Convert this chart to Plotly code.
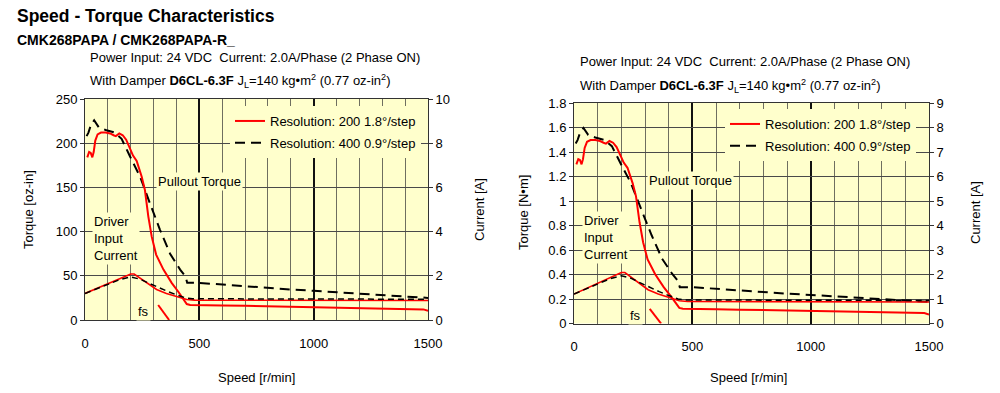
import plotly.graph_objects as go

W, H = 1000, 393

# ---------------- data ----------------
speed_t200 = [10, 18, 25, 32, 38, 45, 55, 70, 90, 110, 125, 135, 150, 165, 180, 195, 210, 226,
              248, 262, 277, 292, 311, 343, 379, 408, 430, 445, 460, 500, 600, 700, 800, 900,
              1000, 1100, 1200, 1300, 1400, 1480, 1500]
torque_t200 = [184, 190, 189, 184, 190, 203, 210, 212, 212, 211, 209, 208, 211, 209, 204, 195, 186, 180,
               162, 147, 117, 94, 74, 57, 42, 32, 23, 18, 17, 17, 16.5, 16, 15.5, 15,
               14, 13.5, 13, 12.5, 12, 12, 10.5]  # oz-in

speed_t400 = [7, 15, 25, 40, 60, 90, 130, 160, 197, 241, 284, 328, 372, 416, 440, 447, 500,
              600, 700, 800, 900, 1000, 1100, 1200, 1300, 1400, 1500]
torque_t400 = [208, 212, 220, 226, 218, 215, 212, 205, 185, 162, 132, 102, 75, 57, 49, 42, 42,
               40, 38, 36, 34.5, 33, 31.5, 30, 28.5, 27, 25]  # oz-in

speed_i200 = [0, 50, 100, 150, 200, 215, 240, 272, 313, 356, 412, 445, 480, 1000, 1500]
current_i200 = [1.2, 1.42, 1.64, 1.86, 2.08, 2.08, 1.9, 1.64, 1.38, 1.2, 1.02, 0.93, 0.9, 0.89, 0.88]  # A

speed_i400 = [0, 50, 100, 150, 200, 240, 280, 320, 360, 400, 440, 470, 1000, 1500]
current_i400 = [1.2, 1.41, 1.62, 1.82, 1.95, 1.85, 1.66, 1.47, 1.3, 1.14, 1.0, 0.96, 0.95, 0.94]  # A

speed_fs = [320, 368]
torque_fs = [17, 0]  # oz-in

OZIN_TO_NM = 0.0070616

x_major_ticks = [0, 500, 1000, 1500]
x_minor_step = 100

legend_200 = "Resolution: 200 1.8°/step"
legend_400 = "Resolution: 400 0.9°/step"

# ---------------- styling ----------------
BG = "#FFFFCC"
SANS = "Liberation Sans, Arial, sans-serif"
RED = "#FF0000"
BLACK = "#000000"
FS = 13


def px(x):
    return x / W


def py(y):
    return 1 - y / H


fig = go.Figure()

charts = [
    dict(xa="x", ya="y", ya2="y2", k=1.0, leg="legend"),
    dict(xa="x2", ya="y3", ya2="y4", k=OZIN_TO_NM, leg="legend2"),
]

for c in charts:
    k = c["k"]
    fig.add_trace(go.Scatter(x=speed_i200, y=current_i200, mode="lines", xaxis=c["xa"], yaxis=c["ya2"],
                             line=dict(color=RED, width=1.6), showlegend=False, hoverinfo="skip"))
    fig.add_trace(go.Scatter(x=speed_i400, y=current_i400, mode="lines", xaxis=c["xa"], yaxis=c["ya2"],
                             line=dict(color=BLACK, width=1.5, dash="6px,4px"), showlegend=False,
                             hoverinfo="skip"))
    fig.add_trace(go.Scatter(x=speed_t400, y=[v * k for v in torque_t400], mode="lines",
                             xaxis=c["xa"], yaxis=c["ya"], name=legend_400, legend=c["leg"],
                             legendgroup="g400", legendrank=2,
                             line=dict(color=BLACK, width=2, dash="10px,6px")))
    fig.add_trace(go.Scatter(x=speed_t200, y=[v * k for v in torque_t200], mode="lines",
                             xaxis=c["xa"], yaxis=c["ya"], name=legend_200, legend=c["leg"],
                             legendgroup="g200", legendrank=1,
                             line=dict(color=RED, width=2)))
    fig.add_trace(go.Scatter(x=speed_fs, y=[v * k for v in torque_fs], mode="lines",
                             xaxis=c["xa"], yaxis=c["ya"], showlegend=False, hoverinfo="skip",
                             line=dict(color=RED, width=2)))

tickfont = dict(family=SANS, size=FS, color="#000")

xcommon = dict(range=[0, 1500], tickvals=x_major_ticks, showgrid=True,
               gridcolor="#111111", gridwidth=2,
               minor=dict(dtick=x_minor_step, tick0=0, showgrid=True, gridcolor="#6f6f60", gridwidth=1,
                          ticks=""),
               showline=True, linecolor="#333", linewidth=1,
               mirror=True, ticks="", ticklabelstandoff=11, tickfont=tickfont, zeroline=False,
               fixedrange=True, automargin=False)
ycommon = dict(showgrid=True, gridcolor="#4a4a4a", gridwidth=1, showline=True, linecolor="#333",
               linewidth=1, ticks="outside", ticklen=4, tickcolor="#333", tickfont=tickfont,
               zeroline=False, fixedrange=True, automargin=False)
y2common = dict(showgrid=False, showline=True, linecolor="#333", linewidth=1, ticks="outside",
                ticklen=4, tickcolor="#333", tickfont=tickfont, zeroline=False, side="right",
                fixedrange=True, automargin=False)

L = dict(x0=85, x1=428, top=99, bot=320)
R = dict(x0=574, x1=929, top=103, bot=323.5)

legcommon = dict(xanchor="left", yanchor="top", bgcolor=BG, borderwidth=0,
                 font=dict(family=SANS, size=FS, color="#000"), tracegroupgap=2,
                 itemwidth=30)

fig.update_layout(
    width=W, height=H, autosize=False,
    margin=dict(l=0, r=0, t=0, b=0, pad=0, autoexpand=False),
    paper_bgcolor="white", plot_bgcolor=BG,
    xaxis=dict(domain=[px(L["x0"]), px(L["x1"])], anchor="y", **xcommon),
    yaxis=dict(domain=[py(L["bot"]), py(L["top"])], anchor="x", range=[0, 250], dtick=50, **ycommon),
    yaxis2=dict(overlaying="y", anchor="x", range=[0, 10], dtick=2, **y2common),
    xaxis2=dict(domain=[px(R["x0"]), px(R["x1"])], anchor="y3", **xcommon),
    yaxis3=dict(domain=[py(R["bot"]), py(R["top"])], anchor="x2", range=[0, 1.8], dtick=0.2, **ycommon),
    yaxis4=dict(overlaying="y3", anchor="x2", range=[0, 9], dtick=1, **y2common),
    legend=dict(x=px(230), y=py(106), **legcommon),
    legend2=dict(x=px(725), y=py(109), **legcommon),
    showlegend=True,
)

ann = []


def text(x, y, s, size=FS, family=SANS, xanchor="left", bg=None, angle=0, yanchor="middle", align="left"):
    d = dict(x=px(x), y=py(y), xref="paper", yref="paper", text=s, showarrow=False,
             xanchor=xanchor, yanchor=yanchor, align=align, textangle=angle,
             font=dict(family=family, size=size, color="#000"))
    if bg:
        d["bgcolor"] = bg
        d["borderpad"] = 1
    ann.append(d)


text(15, 16, "<b>Speed - Torque Characteristics</b>", size=17.5)
text(15, 40, "<b>CMK268PAPA / CMK268PAPA-R_</b>", size=14)

damper = "With Damper <b>D6CL-6.3F</b> J<sub>L</sub>=140 kg•m<sup>2</sup> (0.77 oz-in<sup>2</sup>)"
power = "Power Input: 24 VDC  Current: 2.0A/Phase (2 Phase ON)"

# left chart texts
text(88, 58, power)
text(88, 81, damper)
text(199, 181, "Pullout Torque", xanchor="center", bg=BG)
text(92, 238, "Driver<br>Input<br>Current", bg=BG)
text(143, 311, "fs", xanchor="center", bg=BG)
text(256, 377, "Speed [r/min]", xanchor="center")
text(28, 210, "Torque [oz-in]", xanchor="center", angle=-90)
text(479, 210, "Current [A]", xanchor="center", angle=-90)

# right chart texts
text(578, 62, power)
text(578, 86, damper)
text(690, 180, "Pullout Torque", xanchor="center", bg=BG)
text(582, 237, "Driver<br>Input<br>Current", bg=BG)
text(635, 315, "fs", xanchor="center", bg=BG)
text(748, 377, "Speed [r/min]", xanchor="center")
text(523, 213, "Torque [N•m]", xanchor="center", angle=-90)
text(975, 213, "Current [A]", xanchor="center", angle=-90)

fig.update_layout(annotations=ann)

fig.write_html("out.html", config={"displayModeBar": False},
               post_script="document.body.style.margin='0';document.body.style.overflow='hidden';")
